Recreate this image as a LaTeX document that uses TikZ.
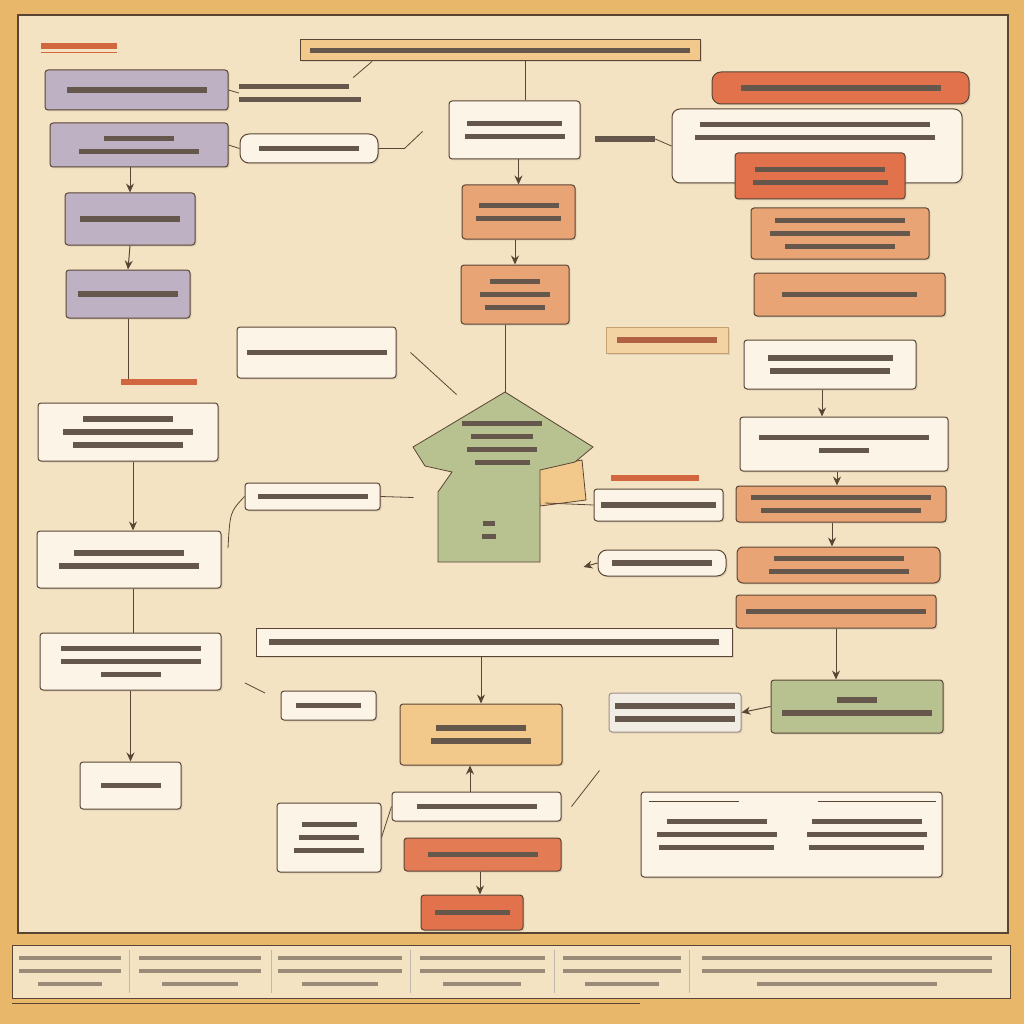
\documentclass[tikz,border=0pt]{standalone}
\usetikzlibrary{arrows.meta, positioning, shadows, calc}

\definecolor{framec}{HTML}{E8B76A}
\definecolor{panelc}{HTML}{F4E3C2}
\definecolor{edgec}{HTML}{5A4535}
\definecolor{inkc}{HTML}{66574D}
\definecolor{purplec}{HTML}{BDB1C3}
\definecolor{whitec}{HTML}{FBF4E7}
\definecolor{orangec}{HTML}{E8A474}
\definecolor{redc}{HTML}{E2724C}
\definecolor{tanc}{HTML}{F2C98B}
\definecolor{greenc}{HTML}{B7C290}
\definecolor{labc}{HTML}{D2663E}
\definecolor{grayc}{HTML}{F1ECE4}
\definecolor{stripink}{HTML}{9A8A78}

% illegible text lines
\newcommand{\txt}[2][inkc]{\textcolor{#1}{\rule{#2pt}{5.5pt}}}
\newcommand{\stxt}[1]{\textcolor{stripink}{\rule{#1pt}{3.5pt}}}

\begin{document}
\begin{tikzpicture}[x=1pt, y=-1pt,
        box/.style={rectangle, draw=edgec, line width=1pt, rounded corners=3pt, inner sep=0pt, align=center,
            font=\fontsize{8}{13}\selectfont, drop shadow={shadow xshift=1.5pt, shadow yshift=-1.5pt, opacity=0.2}},
        pill/.style={box, rounded corners=9pt},
        note/.style={inner sep=0pt, align=center, font=\fontsize{8}{13}\selectfont},
        panel/.style={fill=panelc, draw=edgec, line width=1.5pt},
        flow/.style={-{Stealth[length=9pt, width=8pt]}, line width=1pt, draw=edgec},
        plain/.style={line width=0.8pt, draw=edgec}
    ]
        % Frame and panels
        \fill[framec] (0,0) rectangle (1024,1024);
        \useasboundingbox (0,0) rectangle (1024,1024);
        \draw[panel] (18,15) rectangle (1008,933);
        \draw[panel, line width=1pt] (12,945) rectangle (1010,998);
        \draw[edgec, line width=1pt] (12,1003) -- (640,1003);

        % Left column
        \node[note] (lblTop) at (79,46) {\txt[labc]{76}};
        \draw[labc, line width=0.8pt] ([yshift=-3pt]lblTop.south west) -- ([yshift=-3pt]lblTop.south east);
        \node[box, fill=purplec, minimum width=183pt, minimum height=40pt] (leftA) at (136.5,90) {\txt{140}};
        \node[note, align=left] (annA) at (300,93) {\txt{110}\\\txt{122}};
        \node[box, fill=purplec, minimum width=178pt, minimum height=44pt] (leftB) at (139,145) {\txt{70}\\\txt{120}};
        \node[pill, fill=whitec, minimum width=138pt, minimum height=29pt] (sideA) at (309,148.5) {\txt{100}};
        \node[box, fill=purplec, minimum width=130pt, minimum height=52pt] (leftC) at (130,219) {\txt{100}};
        \node[box, fill=purplec, minimum width=124pt, minimum height=48pt] (leftD) at (128,294) {\txt{100}};
        \node[note] (lblMid) at (159,382) {\txt[labc]{76}};
        \node[box, fill=whitec, minimum width=180pt, minimum height=58pt] (leftE) at (128,432) {\txt{90}\\\txt{130}\\\txt{110}};
        \node[box, fill=whitec, minimum width=184pt, minimum height=57pt] (leftF) at (129,559.5) {\txt{110}\\\txt{140}};
        \node[box, fill=whitec, minimum width=181pt, minimum height=57pt] (leftG) at (130.5,661.5) {\txt{140}\\\txt{140}\\\txt{60}};
        \node[box, fill=whitec, minimum width=101pt, minimum height=47pt] (leftH) at (130.5,785.5) {\txt{60}};

        \draw[plain] (leftA.east) -- (annA.west);
        \draw[plain] (leftB.east) -- (sideA.west);
        \draw[plain] (sideA.east) -- ++(26,0) -- ++(18,-17);
        \draw[flow] (leftB.south -| leftC) -- (leftC.north);
        \draw[flow] (leftC.south) -- (leftD.north);
        \draw[plain] (leftD.south) -- (lblMid.north -| leftD);
        \draw[flow] (leftE.south -| 133,0) -- (leftF.north -| 133,0);
        \draw[plain] (leftF.south -| 133,0) -- (leftG.north -| 133,0);
        \draw[flow] (leftG.south -| leftH) -- (leftH.north);

        % Centre column
        \node[box, rounded corners=0pt, fill=tanc, minimum width=400pt, minimum height=21pt] (banner) at (500,50.5) {\txt{380}};
        \draw[plain] (annA.north east) ++(-8,-6) -- (banner.south west -| 372,0);
        \node[box, fill=whitec, minimum width=131pt, minimum height=58pt] (midA) at (514.5,130) {\txt{95}\\\txt{100}};
        \node[box, fill=orangec, minimum width=113pt, minimum height=54pt] (midB) at (518.5,212) {\txt{80}\\\txt{85}};
        \node[box, fill=orangec, minimum width=108pt, minimum height=59pt] (midC) at (515,294.5) {\txt{50}\\\txt{70}\\\txt{60}};
        \draw[plain] (banner.south -| 525,0) -- (midA.north -| 525,0);
        \draw[flow] (midA.south -| midB) -- (midB.north);
        \draw[flow] (midB.south -| midC) -- (midC.north);

        % Hub shape
        \coordinate (hubTop) at (505,392);
        \coordinate (hubRight) at (545,503);
        \draw[edgec, line width=0.8pt, fill=tanc] (538,468) -- (582,460) -- (586,500) -- (540,506) -- cycle;
        \draw[edgec, line width=0.8pt, fill=greenc] (hubTop) -- (593,447) -- (575,462) -- (540,470) -- (540,562)
            -- (438,562) -- (438,492) -- (452,472) -- (425,466) -- (413,447) -- cycle;
        \node[note] (hubText) at (502,443) {\txt{80}\\\txt{62}\\\txt{70}\\\txt{55}};
        \node[note] (hubSub) at (489,530) {\txt{12}\\\txt{14}};
        \draw[plain] (midC.south -| hubTop) -- (hubTop);

        \node[box, fill=whitec, minimum width=159pt, minimum height=51pt] (sideB) at (316.5,352.5) {\txt{140}};
        \draw[plain] ([xshift=14pt]sideB.east) -- ++(46,42);
        \node[box, fill=whitec, minimum width=135pt, minimum height=27pt] (sideC) at (312.5,496.5) {\txt{110}};
        \draw[plain] (sideC.east) -- ++(33,1);
        \draw[plain] (sideC.west) .. controls (230,512) .. (228,548);
        \node[box, fill=whitec, minimum width=129pt, minimum height=32pt] (sideD) at (658.5,505) {\txt{115}};
        \node[note] (lblHub) at (655,478) {\txt[labc]{88}};
        \draw[plain] (hubRight) -- (sideD.west);
        \node[pill, fill=whitec, minimum width=128pt, minimum height=26pt] (sideE) at (662,563) {\txt{100}};
        \draw[flow] (sideE.west) -- ++(-14,4);
        \node[box, rounded corners=0pt, draw=tanc!70!edgec, fill=tanc!60!panelc, minimum width=122pt, minimum height=26pt] (tagA) at (667,340) {\txt[labc!70!inkc]{100}};

        % Right column
        \node[pill, fill=redc, minimum width=257pt, minimum height=32pt] (rightA) at (840.5,88) {\txt{200}};
        \node[box, rounded corners=8pt, fill=whitec, minimum width=290pt, minimum height=74pt] (rightB) at (817,146) {};
        \node[note] (rightBtxt) at (815,131) {\txt{230}\\\txt{240}};
        \node[note] (lblRight) at (625,139) {\txt{60}};
        \draw[plain] (lblRight.east) -- (rightB.west);
        \node[box, fill=redc, minimum width=170pt, minimum height=46pt] (rightC) at (820,176) {\txt{130}\\\txt{135}};
        \node[box, fill=orangec, minimum width=178pt, minimum height=51pt] (rightD) at (840,233.5) {\txt{130}\\\txt{140}\\\txt{110}};
        \node[box, fill=orangec, minimum width=191pt, minimum height=43pt] (rightE) at (849.5,294.5) {\txt{135}};
        \node[box, fill=whitec, minimum width=172pt, minimum height=49pt] (rightF) at (830,364.5) {\txt{125}\\\txt{120}};
        \node[box, fill=whitec, minimum width=208pt, minimum height=54pt] (rightG) at (844,444) {\txt{170}\\\txt{50}};
        \node[box, fill=orangec, minimum width=210pt, minimum height=36pt] (rightH) at (841,504) {\txt{180}\\\txt{160}};
        \node[box, rounded corners=6pt, fill=orangec, minimum width=203pt, minimum height=36pt] (rightI) at (838.5,565) {\txt{130}\\\txt{140}};
        \node[box, fill=orangec, minimum width=200pt, minimum height=33pt] (rightJ) at (836,611.5) {\txt{180}};
        \node[box, fill=greenc, minimum width=172pt, minimum height=53pt] (rightK) at (857,706.5) {\txt{40}\\\txt{150}};
        \node[box, fill=grayc, draw=edgec!60, minimum width=132pt, minimum height=39pt] (rightL) at (675,712.5) {\txt{120}\\\txt{120}};

        \draw[flow] (rightF.south -| 822,0) -- (rightG.north -| 822,0);
        \draw[flow] (rightG.south -| 837,0) -- (rightH.north -| 837,0);
        \draw[flow] (rightH.south -| 832,0) -- (rightI.north -| 832,0);
        \draw[flow] (rightJ.south -| 836,0) -- (rightK.north -| 836,0);
        \draw[flow] (rightK.west) -- (rightL.east);

        % Bottom block
        \node[box, rounded corners=0pt, fill=whitec, minimum width=476pt, minimum height=28pt] (bannerB) at (494,642) {\txt{450}};
        \node[box, fill=tanc, minimum width=162pt, minimum height=61pt] (lowA) at (481,734.5) {\txt{90}\\\txt{100}};
        \node[box, fill=whitec, minimum width=95pt, minimum height=29pt] (lowB) at (328.5,705.5) {\txt{65}};
        \node[box, fill=whitec, minimum width=169pt, minimum height=29pt] (lowC) at (476.5,806.5) {\txt{120}};
        \node[box, fill=whitec, minimum width=104pt, minimum height=69pt] (lowD) at (329,837.5) {\txt{55}\\\txt{60}\\\txt{70}};
        \node[box, fill=redc!80!orangec, minimum width=157pt, minimum height=33pt] (lowE) at (482.5,854.5) {\txt{110}};
        \node[box, fill=redc, minimum width=102pt, minimum height=35pt] (lowF) at (472,912.5) {\txt{75}};
        \node[box, fill=whitec, minimum width=301pt, minimum height=85pt] (lowG) at (791.5,834.5)
            {\begin{tabular}{@{}c@{\hspace{30pt}}c@{}}\txt{100}&\txt{110}\\\txt{120}&\txt{120}\\\txt{115}&\txt{115}\end{tabular}};
        \draw[plain] ($(lowG.north west)+(8,10)$) -- ++(90,0);
        \draw[plain] ($(lowG.north east)+(-125,10)$) -- ++(118,0);

        \draw[flow] (bannerB.south -| lowA) -- (lowA.north);
        \draw[flow] (lowC.north -| 470,0) -- (lowA.south -| 470,0);
        \draw[plain] (lowD.east) -- (lowC.west);
        \draw[flow] (lowE.south -| 480,0) -- (lowF.north -| 480,0);
        \draw[plain] (245,683) -- (265,693);
        \draw[plain] ([xshift=10pt]lowC.east) -- ++(28,-36);

        % Bottom strip
        \foreach \x/\w in {70/102, 200/122, 340/124, 482/125, 622/118, 847/290} {
            \pgfmathsetmacro{\v}{\w*0.62}
            \node[note, font=\fontsize{6}{13}\selectfont] at (\x,971) {\stxt{\w}\\\stxt{\w}\\\stxt{\v}};
        }
        \foreach \x in {129,271,410,554,689}
            \draw[stripink!60, line width=0.6pt] (\x,950) -- (\x,993);

    \end{tikzpicture}
\end{document}
